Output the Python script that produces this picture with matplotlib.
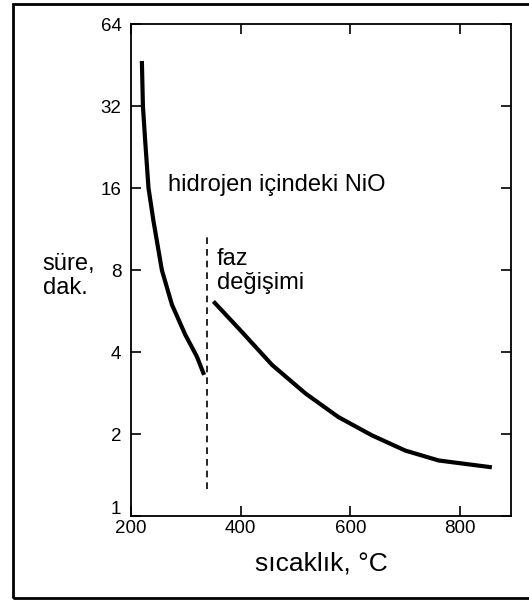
import matplotlib.pyplot as plt
import matplotlib.transforms as mtransforms
from matplotlib.patches import Rectangle

plt.rcParams['font.family'] = ['Liberation Sans', 'DejaVu Sans']

low_temp = [219.5, 221.4, 225.5, 231.6, 240.7, 256, 274.3, 298.5, 319.9, 333]
low_time = [46.9, 32, 23.9, 16, 12.1, 8, 5.98, 4.64, 3.85, 3.3]

high_temp = [350, 396, 457, 518, 578, 639, 700, 761, 858]
high_time = [6.14, 4.89, 3.59, 2.82, 2.31, 1.98, 1.74, 1.6, 1.51]

phase_temp = 338
phase_range = [1.26, 10.6]

x_ticks = [200, 400, 600, 800]
y_ticks = [1, 2, 4, 8, 16, 32, 64]

fig = plt.figure(figsize=(5.29, 6.05), dpi=100)
ax = fig.add_axes([0.248, 0.147, 0.718, 0.813])

ax.plot(low_temp, low_time, color="black", lw=3, solid_capstyle="butt",
        solid_joinstyle="round")
ax.plot(high_temp, high_time, color="black", lw=3, solid_capstyle="butt",
        solid_joinstyle="round")
ax.plot([phase_temp, phase_temp], phase_range, color="black", lw=1.2,
        linestyle=(0, (4, 3)))

ax.set_yscale("log", base=2)
ax.set_xlim(200, 893)
ax.set_ylim(1, 64)
ax.set_xticks(x_ticks)
ax.set_xticklabels([str(t) for t in x_ticks])
ax.set_yticks(y_ticks)
ax.set_yticklabels([str(t) for t in y_ticks])
ax.minorticks_off()
ax.tick_params(direction="in", length=7, width=1.2, labelsize=13.5,
               top=True, right=True, labeltop=False, labelright=False)
ax.tick_params(axis="x", pad=3)
ax.tick_params(axis="y", pad=7)
for s in ax.spines.values():
    s.set_linewidth(1.3)

# the "1" sits a bit higher so it clears the "200"
lift = mtransforms.ScaledTranslation(0, 6 / 72, fig.dpi_scale_trans)
first = ax.get_yticklabels()[0]
first.set_transform(first.get_transform() + lift)

ax.set_xlabel("sıcaklık, °C", fontsize=19, labelpad=10)

ax.text(0.097, 0.673, "hidrojen içindeki NiO", transform=ax.transAxes,
        fontsize=17, va="center")
ax.text(0.226, 0.498, "faz\ndeğişimi", transform=ax.transAxes,
        fontsize=17, va="center", linespacing=1.15)
fig.text(0.081, 0.544, "süre,\ndak.", fontsize=17, va="center",
         linespacing=1.15)

fig.patches.append(Rectangle((0.025, 0.012), 0.98, 0.982, fill=False,
                             lw=2, edgecolor="black",
                             transform=fig.transFigure))

fig.savefig("out.png", dpi=100)
